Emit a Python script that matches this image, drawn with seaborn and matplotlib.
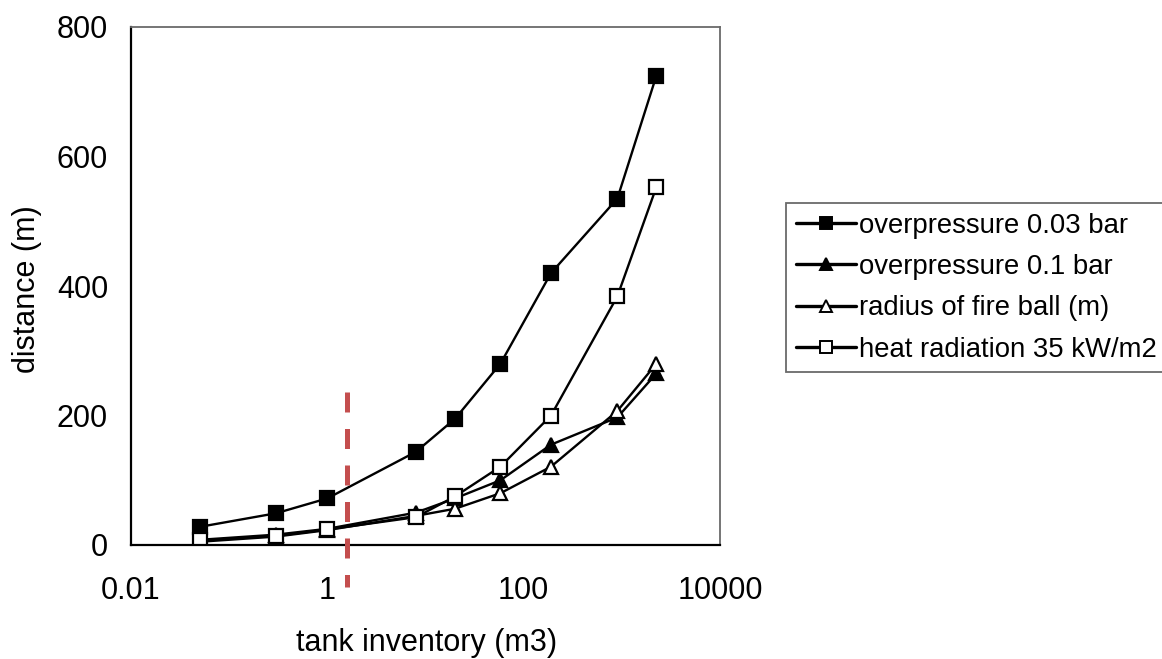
import numpy as np
import pandas as pd
import seaborn as sns
import matplotlib.pyplot as plt
from matplotlib.lines import Line2D

# tank inventory (m3)
inventory = [0.05, 0.3, 1, 8, 20, 58, 190, 900, 2250]

# distances (m) per effect
overpressure_003 = [28, 49, 72, 144, 195, 280, 420, 535, 725]
overpressure_01 = [8, 16, 25, 50, 72, 100, 155, 197, 265]
fire_ball = [5, 13, 23, 45, 56, 80, 121, 207, 280]
heat_35 = [7, 14, 24, 43, 75, 121, 200, 384, 553]

labels = ['overpressure 0.03 bar', 'overpressure 0.1 bar',
          'radius of fire ball (m)', 'heat radiation 35 kW/m2']

# red marker line drawn on top of the chart
cut_x = 1.6
cut_y = [237, -65]

x_ticks = [0.01, 1, 100, 10000]
x_tick_labels = ['0.01', '1', '100', '10000']
y_ticks = [0, 200, 400, 600, 800]

###############################################################################

sns.set_style('white')
plt.rcParams['font.family'] = ['Liberation Sans', 'DejaVu Sans']
plt.rcParams['text.color'] = 'black'
plt.rcParams['axes.labelcolor'] = 'black'

fig = plt.figure(figsize=(11.62, 6.59), dpi=100)
ax = fig.add_axes([131/1162, 1-545/659, (720-131)/1162, (545-27)/659])

series = [overpressure_003, overpressure_01, fire_ball, heat_35]
markers = ['s', '^', '^', 's']
faces = ['black', 'black', 'white', 'white']

for vals, lab, m, fc in zip(series, labels, markers, faces):
    df = pd.DataFrame({'inventory': inventory, 'distance': vals})
    sns.lineplot(data=df, x='inventory', y='distance', ax=ax, color='black',
                 marker=m, markersize=10.5, markerfacecolor=fc,
                 markeredgecolor='black', markeredgewidth=1.6,
                 linewidth=1.7, legend=False, label=lab)

ax.plot([cut_x, cut_x], cut_y, color='#c44e4e', linewidth=3.6,
        dashes=(4, 3.3), clip_on=False, zorder=5)

ax.set_xscale('log')
ax.set_xlim(0.01, 10000)
ax.set_ylim(0, 800)
ax.set_xticks(x_ticks)
ax.set_xticklabels(x_tick_labels)
ax.set_yticks(y_ticks)
ax.minorticks_off()
ax.tick_params(axis='both', direction='inout', length=11, width=1.2,
               colors='black', labelsize=22)
ax.tick_params(axis='x', pad=17)
ax.tick_params(axis='y', pad=11)

for side in ['left', 'bottom']:
    ax.spines[side].set_color('black')
    ax.spines[side].set_linewidth(1.6)
for side in ['top', 'right']:
    ax.spines[side].set_color('#6a6a6a')
    ax.spines[side].set_linewidth(1.3)

ax.set_xlabel('tank inventory (m3)', fontsize=22)
ax.set_ylabel('distance (m)', fontsize=22)
ax.xaxis.label.set_verticalalignment('center')
ax.xaxis.set_label_coords((427 - 131) / 589, -(643 - 545) / 518)
ax.yaxis.label.set_verticalalignment('center')
ax.yaxis.set_label_coords(-(131 - 27.5) / 589, (545 - 289) / 518)

handles = [Line2D([], [], color='black', marker=m, markersize=8,
                  markerfacecolor=fc, markeredgecolor='black',
                  markeredgewidth=1.4, linewidth=2.4)
           for m, fc in zip(markers, faces)]
leg = fig.legend(handles, labels, loc='upper left',
                 bbox_to_anchor=(786/1162, 1-203/659), fontsize=19.8,
                 frameon=True, fancybox=False, framealpha=1,
                 edgecolor='#6a6a6a', handlelength=2.2, handletextpad=0.1,
                 labelspacing=0.56, borderpad=0.35, borderaxespad=0)
leg.get_frame().set_linewidth(1.3)

fig.savefig('out.png', dpi=100)
